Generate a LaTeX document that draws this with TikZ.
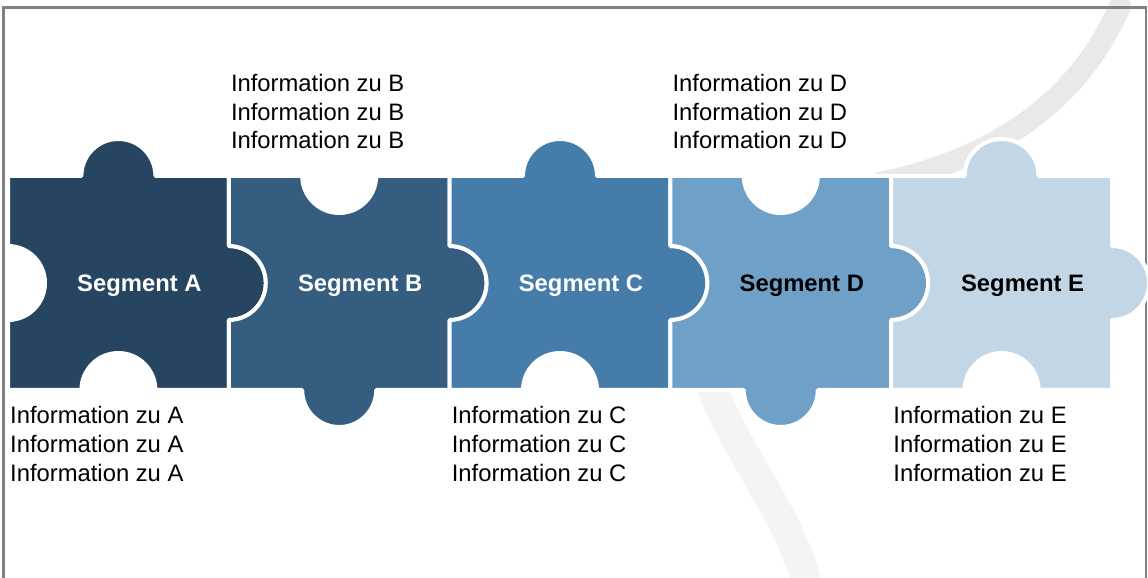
\documentclass[tikz,border=0pt]{standalone}
\usepackage{fontspec}
\setmainfont{Liberation Sans}
\definecolor{segA}{HTML}{264560}
\definecolor{segB}{HTML}{345D7F}
\definecolor{segC}{HTML}{457CA9}
\definecolor{segD}{HTML}{6FA1C8}
\definecolor{segE}{HTML}{C3D6E6}
\tikzset{
  piece/.style={fill=#1, draw=white, line width=4pt, line join=round},
  seglabel/.style={font=\fontsize{23.8}{28.7}\selectfont\bfseries,
      anchor=base, inner sep=0pt},
  info/.style={font=\fontsize{23.8}{28.7}\selectfont, align=left,
      anchor=base west, inner sep=0pt}, % base = last line
  cable/.style={line width=#1, draw=gray!17, line cap=round},
  cable/.default=22pt,
  frame/.style={draw=gray, line width=2.5pt},
}
% puzzle piece: #1 name, #2 left edge, #3 top tab (1 = knob, -1 = hole), #4 colour
\newcommand{\puzzlepiece}[4]{%
  \draw[piece=#4] (#2,402) coordinate (#1)
    -- ({#2+73.4},402) arc[start angle=180, end angle={180-180*(#3)}, radius=37]
    -- ({#2+220.8},402) -- ({#2+220.8},332) arc[start angle=90, end angle=-90, radius=37]
    -- ({#2+220.8},188) -- ({#2+147.4},188) arc[start angle=0, end angle={180*(#3)}, radius=37]
    -- (#2,188) -- (#2,258) arc[start angle=-90, end angle=90, radius=37]
    -- cycle;
}

\begin{document}
\begin{tikzpicture}[x=1pt, y=1pt]
  \useasboundingbox (0,0) rectangle (1148,578);

  % faint cables in the background
  \draw[cable] (1120,572) .. controls (1080,480) and (1000,420) .. (880,395);
  \draw[cable=30pt, draw=gray!9] (712,190) .. controls (740,120) and (790,60) .. (805,0);

  \draw[frame] (3.5,0) -- (3.5,570.5) -- (1146,570.5) -- (1146,0);

  \puzzlepiece{pA}{8}{1}{segA}
  \puzzlepiece{pB}{228.8}{-1}{segB}
  \puzzlepiece{pC}{449.6}{1}{segC}
  \puzzlepiece{pD}{670.4}{-1}{segD}
  \puzzlepiece{pE}{891.2}{1}{segE}

  \node[seglabel, text=white] (segA) at (139.4,286.5) {Segment A};
  \node[seglabel, text=white] (segB) at (360.2,286.5) {Segment B};
  \node[seglabel, text=white] (segC) at (581,286.5) {Segment C};
  \node[seglabel] (segD) at (801.8,286.5) {Segment D};
  \node[seglabel] (segE) at (1022.6,286.5) {Segment E};

  \node[info] (infoA) at (10,96.6) {Information zu A\\Information zu A\\Information zu A};
  \node[info] (infoB) at (230.8,429.1) {Information zu B\\Information zu B\\Information zu B};
  \node[info] (infoC) at (451.6,96.6) {Information zu C\\Information zu C\\Information zu C};
  \node[info] (infoD) at (672.4,429.1) {Information zu D\\Information zu D\\Information zu D};
  \node[info] (infoE) at (893.2,96.6) {Information zu E\\Information zu E\\Information zu E};
\end{tikzpicture}
\end{document}
